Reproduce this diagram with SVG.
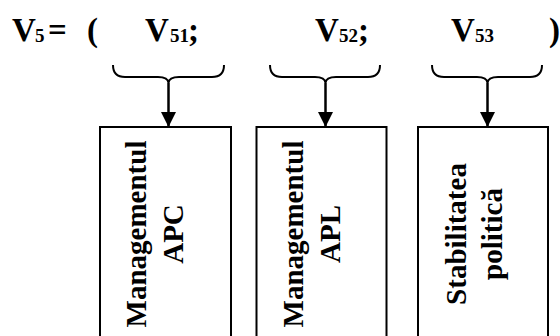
<svg xmlns="http://www.w3.org/2000/svg" width="560" height="336" viewBox="0 0 560 336">
<style>
.t{font-family:"Liberation Serif","Times New Roman",serif;font-weight:bold;font-size:33px;fill:#000}
.s{font-family:"Liberation Serif","Times New Roman",serif;font-weight:bold;font-size:19px;fill:#000}
.b{font-family:"Liberation Serif","Times New Roman",serif;font-weight:bold;font-size:29px;fill:#000;text-anchor:middle}
.box{fill:#fff;stroke:#000;stroke-width:2}
.br{fill:none;stroke:#000;stroke-width:2}
.ar{fill:none;stroke:#000;stroke-width:2.5}
</style>
<defs>
<marker id="ah" markerUnits="userSpaceOnUse" markerWidth="15" markerHeight="15" refX="15" refY="7.5" orient="auto">
<path d="M0,0 L15,7.5 L0,15 z" fill="#000"/>
</marker>
</defs>
<rect width="560" height="336" fill="#fff"/>
<g id="title">
<text class="t" x="12" y="41">V</text><text class="s" x="35" y="42">5</text>
<text class="t" x="48" y="41">=</text>
<text class="t" x="87" y="41">(</text>
<text class="t" x="145" y="41">V</text><text class="s" x="170" y="42">51</text><text class="t" x="188" y="41">;</text>
<text class="t" x="315" y="41">V</text><text class="s" x="339" y="42">52</text><text class="t" x="358" y="41">;</text>
<text class="t" x="451" y="41">V</text><text class="s" x="475" y="42">53</text>
<text class="t" x="549" y="41">)</text>
</g>
<g id="connectors">
<path class="br" d="M113,65 Q113,77 125,77 L158,77 Q168,77 168.5,83 Q169,77 179,77 L212,77 Q224,77 224,65"/>
<path class="br" d="M270,65 Q270,77 282,77 L315,77 Q325,77 325.5,83 Q326,77 336,77 L368,77 Q380,77 380,65"/>
<path class="br" d="M432,65 Q432,77 444,77 L477,77 Q487,77 487.5,83 Q488,77 498,77 L530,77 Q542,77 542,65"/>
<line class="ar" x1="168.5" y1="83" x2="168.5" y2="127" marker-end="url(#ah)"/>
<line class="ar" x1="325.5" y1="83" x2="325.5" y2="127" marker-end="url(#ah)"/>
<line class="ar" x1="487.5" y1="83" x2="487.5" y2="127" marker-end="url(#ah)"/>
</g>
<g id="node1">
<rect class="box" x="100" y="127" width="131" height="230"/>
<text class="b" transform="translate(146,234) rotate(-90)">Managementul</text>
<text class="b" transform="translate(183,234) rotate(-90)">APC</text>
</g>
<g id="node2">
<rect class="box" x="256.5" y="127" width="130" height="230"/>
<text class="b" transform="translate(303,234) rotate(-90)">Managementul</text>
<text class="b" transform="translate(340,234) rotate(-90)">APL</text>
</g>
<g id="node3">
<rect class="box" x="418" y="127" width="130" height="230"/>
<text class="b" transform="translate(466,234) rotate(-90)">Stabilitatea</text>
<text class="b" transform="translate(502,234) rotate(-90)">politică</text>
</g>
</svg>
